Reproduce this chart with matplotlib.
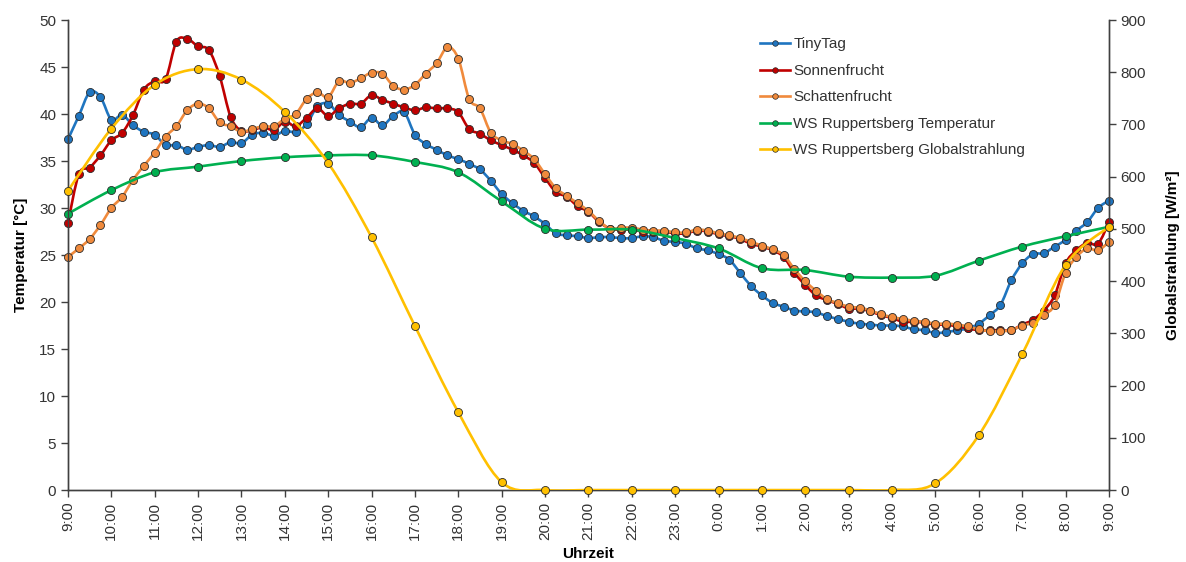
# -*- coding: utf-8 -*-
# Temperaturverlauf Sonnenfrucht / Schattenfrucht mit Wetterstation
import numpy as np
import matplotlib
matplotlib.use('Agg')
import matplotlib.pyplot as plt
from matplotlib.path import Path
from matplotlib.patches import PathPatch
from matplotlib.lines import Line2D

plt.rcParams['font.family'] = ['Liberation Sans', 'DejaVu Sans']

# Zeitachse: 15-min Werte von 9:00 bis 9:00 (Stunden seit 9:00)
t15 = np.arange(97) / 4.0
t60 = np.arange(25)
hour_labels = ['9:00', '10:00', '11:00', '12:00', '13:00', '14:00', '15:00', '16:00',
               '17:00', '18:00', '19:00', '20:00', '21:00', '22:00', '23:00', '0:00',
               '1:00', '2:00', '3:00', '4:00', '5:00', '6:00', '7:00', '8:00', '9:00']

tinytag = [37.3, 39.8, 42.3, 41.8, 39.4, 39.9, 38.8, 38.1, 37.8, 36.7, 36.7, 36.2, 36.5,
           36.7, 36.5, 37.0, 36.9, 37.8, 38.0, 37.7, 38.2, 38.1, 38.9, 40.8, 41.1, 39.9,
           39.2, 38.6, 39.6, 38.8, 39.8, 40.2, 37.8, 36.8, 36.2, 35.6, 35.2, 34.7, 34.1,
           32.9, 31.5, 30.5, 29.7, 29.1, 28.3, 27.3, 27.1, 27.0, 26.8, 26.9, 26.9, 26.8,
           26.8, 27.0, 26.9, 26.5, 26.4, 26.2, 25.7, 25.5, 25.1, 24.5, 23.1, 21.7, 20.7,
           19.9, 19.5, 19.1, 19.0, 18.9, 18.5, 18.2, 17.9, 17.7, 17.6, 17.5, 17.5, 17.4,
           17.1, 17.0, 16.7, 16.8, 17.0, 17.2, 17.7, 18.6, 19.7, 22.3, 24.1, 25.1, 25.2,
           25.9, 26.6, 27.6, 28.5, 30.0, 30.8]

sonnenfrucht = [28.4, 33.6, 34.3, 35.6, 37.2, 38.0, 39.9, 42.6, 43.5, 43.7, 47.7, 48.0,
                47.2, 46.8, 44.0, 39.7, 38.2, 38.3, 38.6, 38.3, 39.2, 38.7, 39.6, 40.6,
                39.8, 40.6, 41.1, 41.1, 42.0, 41.5, 41.1, 40.7, 40.4, 40.7, 40.6, 40.6,
                40.2, 38.4, 37.9, 37.2, 36.7, 36.2, 35.6, 34.8, 33.2, 31.7, 31.2, 30.2,
                29.6, 28.5, 27.8, 27.7, 27.7, 27.5, 27.5, 27.5, 27.3, 27.3, 27.6, 27.5,
                27.2, 27.0, 26.7, 26.2, 25.9, 25.5, 24.8, 23.1, 21.8, 20.7, 20.2, 19.8,
                19.3, 19.3, 19.0, 18.6, 18.3, 17.9, 17.9, 17.8, 17.6, 17.6, 17.4, 17.2,
                17.0, 17.0, 17.0, 17.0, 17.6, 18.1, 19.1, 20.7, 24.1, 25.5, 26.3, 26.2, 28.5]

schattenfrucht = [24.8, 25.7, 26.7, 28.2, 30.0, 31.2, 33.0, 34.5, 35.9, 37.6, 38.7, 40.4,
                  41.1, 40.6, 39.1, 38.7, 38.1, 38.4, 38.7, 38.7, 39.5, 40.0, 41.6, 42.3,
                  41.8, 43.5, 43.3, 43.8, 44.4, 44.3, 43.0, 42.6, 43.1, 44.3, 45.4, 47.1,
                  45.9, 41.6, 40.6, 38.0, 37.2, 36.8, 36.1, 35.2, 33.6, 32.1, 31.3, 30.5,
                  29.7, 28.6, 27.8, 27.9, 27.9, 27.7, 27.6, 27.6, 27.4, 27.4, 27.7, 27.6,
                  27.3, 27.1, 26.8, 26.4, 26.0, 25.6, 25.0, 23.5, 22.2, 21.2, 20.3, 19.9,
                  19.5, 19.4, 19.1, 18.7, 18.4, 18.2, 18.0, 17.9, 17.7, 17.7, 17.6, 17.4,
                  17.1, 16.9, 16.9, 17.0, 17.5, 17.8, 18.6, 19.7, 23.1, 24.8, 25.7, 25.5, 26.4]

ws_temp = [29.4, 31.9, 33.8, 34.4, 35.0, 35.4, 35.6, 35.6, 34.9, 33.8, 30.7, 27.8, 27.7,
           27.7, 26.8, 25.7, 23.6, 23.4, 22.7, 22.6, 22.8, 24.4, 25.9, 27.0, 28.0]

ws_glob = [573, 692, 776, 806, 786, 724, 626, 484, 314, 149, 15, 0, 0, 0, 0, 0, 0, 0, 0,
           0, 13, 105, 260, 431, 504]


def smooth_path(x, y):
    # geglaettete Linie wie in Excel (Catmull-Rom als Bezier)
    pts = np.column_stack([x, y]).astype(float)
    n = len(pts)
    verts = [pts[0]]
    codes = [Path.MOVETO]
    for i in range(n - 1):
        p0 = pts[max(i - 1, 0)]
        p1 = pts[i]
        p2 = pts[i + 1]
        p3 = pts[min(i + 2, n - 1)]
        verts += [p1 + (p2 - p0) / 6.0, p2 - (p3 - p1) / 6.0, p2]
        codes += [Path.CURVE4] * 3
    return Path(verts, codes)


def draw(ax, x, y, color, z):
    ax.add_patch(PathPatch(smooth_path(x, y), fill=False, edgecolor=color,
                           lw=1.9, zorder=z, capstyle='round', joinstyle='round'))
    ax.plot(x, y, ls='none', marker='o', ms=5.8, mfc=color, mec='#2a2a2a',
            mew=0.6, zorder=z + 0.5, clip_on=False)


c_blue = '#1f75c0'
c_red = '#c00000'
c_orange = '#f08a3c'
c_green = '#00b050'
c_yellow = '#ffc000'

fig = plt.figure(figsize=(11.86, 5.62), dpi=100)
ax1 = fig.add_axes([0.0573, 0.128, 0.8777, 0.8364])
ax2 = ax1.twinx()

draw(ax1, t15, tinytag, c_blue, 2)
draw(ax1, t15, sonnenfrucht, c_red, 3)
draw(ax1, t15, schattenfrucht, c_orange, 4)
draw(ax1, t60, ws_temp, c_green, 5)
draw(ax2, t60, ws_glob, c_yellow, 6)

ax1.set_xlim(0, 24)
ax1.set_ylim(0, 50)
ax2.set_ylim(0, 900)
ax1.set_xticks(t60)
ax1.set_xticklabels(hour_labels, rotation=90)
ax1.set_yticks(np.arange(0, 51, 5))
ax2.set_yticks(np.arange(0, 901, 100))

tc = '#333333'
for ax in (ax1, ax2):
    ax.spines['top'].set_visible(False)
    for s in ('left', 'right', 'bottom'):
        ax.spines[s].set_color('#404040')
        ax.spines[s].set_linewidth(1.0)
    ax.tick_params(axis='both', direction='out', length=5, width=1,
                   colors='#404040', labelcolor=tc, labelsize=11)
    ax.set_facecolor('none')

ax1.set_xlabel('Uhrzeit', fontsize=11, fontweight='bold', labelpad=5)
ax1.set_ylabel('Temperatur [°C]', fontsize=11, fontweight='bold', labelpad=8)
ax2.set_ylabel('Globalstrahlung [W/m²]', fontsize=11, fontweight='bold', labelpad=14)

names = ['TinyTag', 'Sonnenfrucht', 'Schattenfrucht', 'WS Ruppertsberg Temperatur',
         'WS Ruppertsberg Globalstrahlung']
cols = [c_blue, c_red, c_orange, c_green, c_yellow]
handles = [Line2D([], [], color=c, lw=1.9, marker='o', ms=4, mfc=c, mec='#2a2a2a',
                  mew=0.5) for c in cols]
fig.legend(handles, names, loc='upper left', bbox_to_anchor=(0.629, 0.958),
           frameon=False, fontsize=11, handlelength=2.0, handletextpad=0.2,
           labelspacing=0.82, labelcolor=tc)

plt.savefig('out.png', dpi=100)
